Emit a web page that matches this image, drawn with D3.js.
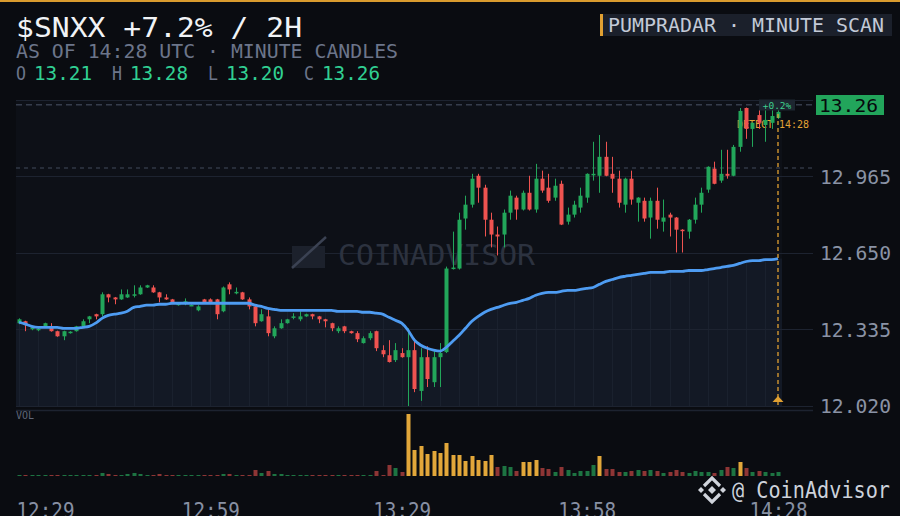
<!DOCTYPE html>
<html>
<head>
<meta charset="utf-8">
<script src="https://cdnjs.cloudflare.com/ajax/libs/d3/7.8.5/d3.min.js"></script>
<style>
html, body { margin: 0; padding: 0; background: #0a0c11; overflow: hidden; }
svg { display: block; }
text { font-family: "DejaVu Sans Mono", monospace; }
</style>
</head>
<body>
<svg id="chart" width="900" height="516"></svg>
<script>
// minute candles 12:29 -> 14:28
var opens = [12.361,12.369,12.336,12.336,12.348,12.344,12.328,12.307,12.322,12.328,
	12.348,12.377,12.398,12.398,12.480,12.467,12.459,12.467,12.476,12.480,
	12.508,12.508,12.488,12.467,12.459,12.435,12.447,12.435,12.414,12.459,
	12.459,12.459,12.410,12.521,12.486,12.488,12.459,12.430,12.369,12.389,
	12.307,12.340,12.361,12.385,12.377,12.389,12.398,12.389,12.377,12.361,
	12.328,12.348,12.328,12.320,12.279,12.299,12.328,12.250,12.229,12.209,
	12.238,12.221,12.250,12.082,12.221,12.118,12.221,12.242,12.586,12.586,
	12.792,12.849,12.968,12.919,12.787,12.726,12.726,12.816,12.878,12.829,
	12.898,12.829,12.956,12.919,12.878,12.935,12.779,12.808,12.837,12.878,
	12.972,12.968,13.046,12.976,12.956,12.849,12.956,12.857,12.865,12.796,
	12.865,12.779,12.808,12.796,12.746,12.738,12.787,12.849,12.911,12.997,
	12.948,12.976,12.968,13.087,13.247,13.161,13.218,13.177,13.186,13.206];
var highs = [12.381,12.371,12.348,12.344,12.363,12.361,12.330,12.330,12.328,12.350,
	12.377,12.391,12.400,12.488,12.482,12.469,12.500,12.500,12.517,12.517,
	12.519,12.517,12.490,12.480,12.461,12.447,12.463,12.439,12.435,12.461,
	12.463,12.461,12.512,12.529,12.508,12.490,12.467,12.432,12.418,12.418,
	12.348,12.377,12.379,12.402,12.410,12.400,12.400,12.391,12.379,12.363,
	12.348,12.350,12.330,12.328,12.307,12.328,12.330,12.270,12.291,12.279,
	12.258,12.340,12.299,12.258,12.266,12.246,12.279,12.594,12.738,12.816,
	12.886,12.976,12.976,12.931,12.816,12.759,12.829,12.907,12.886,12.907,
	12.968,13.017,12.989,12.976,12.956,12.948,12.837,12.865,12.919,12.978,
	13.108,13.136,13.108,13.046,12.989,12.960,12.989,12.880,12.878,12.878,
	12.919,12.870,12.816,12.798,12.748,12.790,12.878,12.919,13.007,13.026,
	13.075,13.075,13.095,13.247,13.249,13.188,13.247,13.247,13.247,13.247];
var lows = [12.357,12.328,12.332,12.328,12.346,12.326,12.305,12.291,12.318,12.326,
	12.346,12.361,12.377,12.389,12.447,12.439,12.457,12.465,12.467,12.478,
	12.506,12.486,12.447,12.457,12.445,12.433,12.435,12.433,12.410,12.445,
	12.445,12.377,12.406,12.480,12.480,12.457,12.418,12.348,12.367,12.307,
	12.299,12.338,12.359,12.377,12.369,12.387,12.377,12.361,12.344,12.328,
	12.320,12.320,12.318,12.283,12.277,12.291,12.246,12.221,12.199,12.201,
	12.219,12.020,12.077,12.041,12.098,12.098,12.098,12.238,12.582,12.582,
	12.746,12.837,12.857,12.718,12.673,12.640,12.673,12.787,12.787,12.825,
	12.825,12.816,12.898,12.857,12.865,12.765,12.767,12.796,12.816,12.857,
	12.948,12.898,12.966,12.898,12.837,12.816,12.849,12.779,12.779,12.709,
	12.750,12.738,12.718,12.652,12.652,12.709,12.771,12.816,12.898,12.933,
	12.939,12.956,12.966,13.067,13.120,13.087,13.161,13.108,13.161,13.202];
var closes = [12.377,12.357,12.344,12.338,12.361,12.328,12.307,12.328,12.326,12.348,
	12.369,12.389,12.389,12.480,12.467,12.459,12.480,12.480,12.480,12.508,
	12.517,12.488,12.467,12.459,12.447,12.443,12.451,12.436,12.430,12.447,
	12.447,12.398,12.508,12.500,12.490,12.459,12.430,12.361,12.398,12.320,
	12.340,12.361,12.377,12.389,12.389,12.398,12.389,12.377,12.369,12.340,
	12.340,12.328,12.320,12.295,12.299,12.320,12.258,12.233,12.201,12.250,
	12.221,12.250,12.090,12.221,12.131,12.221,12.238,12.586,12.590,12.787,
	12.849,12.956,12.919,12.787,12.726,12.718,12.816,12.886,12.829,12.898,
	12.829,12.956,12.907,12.865,12.927,12.767,12.808,12.849,12.886,12.976,
	12.976,13.046,12.968,12.956,12.857,12.956,12.870,12.878,12.792,12.865,
	12.787,12.796,12.796,12.746,12.742,12.787,12.849,12.898,13.005,12.935,
	12.976,12.968,13.087,13.235,13.161,13.186,13.186,13.198,13.214,13.231];
var ma = [12.365,12.357,12.348,12.344,12.344,12.344,12.344,12.340,12.340,12.340,
	12.344,12.348,12.361,12.381,12.393,12.398,12.402,12.410,12.426,12.430,
	12.435,12.435,12.439,12.439,12.443,12.443,12.443,12.443,12.443,12.443,
	12.443,12.443,12.443,12.443,12.443,12.443,12.443,12.435,12.430,12.422,
	12.418,12.414,12.414,12.414,12.414,12.414,12.414,12.414,12.414,12.414,
	12.410,12.410,12.410,12.410,12.406,12.406,12.402,12.398,12.385,12.373,
	12.361,12.332,12.291,12.270,12.258,12.250,12.246,12.262,12.287,12.311,
	12.340,12.369,12.389,12.406,12.418,12.426,12.435,12.443,12.447,12.455,
	12.463,12.476,12.484,12.488,12.488,12.492,12.496,12.496,12.500,12.504,
	12.508,12.521,12.533,12.541,12.549,12.554,12.558,12.562,12.566,12.570,
	12.570,12.570,12.574,12.574,12.574,12.578,12.578,12.578,12.582,12.586,
	12.590,12.595,12.599,12.607,12.615,12.619,12.619,12.623,12.623,12.627];
var volume = [1,1,1,1,1,1,1,1,1,1,1,1,1,3,2,1,1,2,3,2,
	1,1,2,1,1,1,1,1,1,1,1,1,2,2,1,1,1,6,3,5,
	2,2,1,1,1,1,1,1,1,1,1,1,1,1,1,1,5,1,11,8,
	4,62,26,30,22,25,23,33,21,21,15,20,16,15,21,9,10,9,5,14,
	14,16,8,7,4,9,6,3,5,5,11,20,7,7,4,4,5,6,5,6,
	5,3,4,6,4,3,5,4,4,3,6,9,8,14,8,4,5,4,3,4];

var tickIdx = [0, 30, 60, 89, 119];
var tickLabels = ['12:29', '12:59', '13:29', '13:58', '14:28'];
var priceTicks = [12.020, 12.335, 12.650, 12.965, 13.280];
var lastPrice = 13.26;
var levelPrice = 13.00;
var ohlcLabels = ['O', 'H', 'L', 'C'];
var ohlcValues = ['13.21', '13.28', '13.20', '13.26'];

var plotLeft = 16, plotRight = 782, plotTop = 100, plotBottom = 406;
var upColor = '#22a65a', downColor = '#ef5350';

var svg = d3.select('#chart');

var x = d3.scaleLinear().domain([0, opens.length - 1]).range([19, 778]);
var y = d3.scaleLinear().domain([12.02, 13.28]).range([plotBottom, plotTop]);
var v = d3.scaleLinear().domain([0, 62]).range([476, 414]);

var candles = opens.map(function (o, i) {
	return {i: i, o: o, h: highs[i], l: lows[i], c: closes[i], vol: volume[i], ma: ma[i]};
});

svg.append('rect').attr('width', 900).attr('height', 516).attr('fill', '#0a0c11');
svg.append('rect').attr('width', 900).attr('height', 2).attr('fill', '#d99b2e');

// plot panel
svg.append('rect')
	.attr('x', plotLeft).attr('y', plotTop)
	.attr('width', plotRight - plotLeft).attr('height', plotBottom - plotTop)
	.attr('fill', '#0d1017');

var areaPts = [{px: plotLeft, val: ma[0]}].concat(candles.map(function (d) {
	return {px: x(d.i), val: d.ma};
})).concat([{px: plotRight, val: ma[ma.length - 1]}]);

var area = d3.area()
	.x(function (d) { return d.px; })
	.y0(plotBottom)
	.y1(function (d) { return y(d.val); })
	.curve(d3.curveMonotoneX);

var defs = svg.append('defs');
defs.append('clipPath').attr('id', 'under-ma')
	.append('path').attr('d', area(areaPts));

svg.append('path').attr('d', area(areaPts)).attr('fill', '#131925');

svg.append('g')
	.attr('clip-path', 'url(#under-ma)')
	.selectAll('line')
	.data(candles.filter(function (d) { return d.i % 3 == 0; }))
	.enter().append('line')
	.attr('x1', function (d) { return Math.round(x(d.i)) + 0.5; })
	.attr('x2', function (d) { return Math.round(x(d.i)) + 0.5; })
	.attr('y1', plotTop).attr('y2', plotBottom)
	.attr('stroke', '#1a212e').attr('stroke-width', 1);

// grid
svg.append('g').selectAll('line')
	.data(priceTicks)
	.enter().append('line')
	.attr('x1', plotLeft).attr('x2', 813)
	.attr('y1', function (d) { return Math.round(y(d)) + 0.5; })
	.attr('y2', function (d) { return Math.round(y(d)) + 0.5; })
	.attr('stroke', '#1d2330').attr('stroke-width', 1.2);

svg.append('line')
	.attr('x1', plotLeft).attr('x2', 813).attr('y1', 410.5).attr('y2', 410.5)
	.attr('stroke', '#1d2330').attr('stroke-width', 1.5);

svg.append('line')
	.attr('x1', plotLeft).attr('x2', 812)
	.attr('y1', y(levelPrice)).attr('y2', y(levelPrice))
	.attr('stroke', '#434b5c').attr('stroke-dasharray', '4,4');

svg.append('line')
	.attr('x1', plotLeft).attr('x2', 812)
	.attr('y1', y(lastPrice)).attr('y2', y(lastPrice))
	.attr('stroke', '#4c5468').attr('stroke-dasharray', '6,4');

// watermark
var wm = svg.append('g');
wm.append('rect').attr('x', 292).attr('y', 246).attr('width', 33).attr('height', 22).attr('fill', '#1c212c');
wm.append('line').attr('x1', 292).attr('y1', 268).attr('x2', 326).attr('y2', 237)
	.attr('stroke', '#3b4253').attr('stroke-width', 2.5);
wm.append('text').attr('x', 338).attr('y', 265)
	.attr('font-size', 29).attr('fill', '#2c323f')
	.attr('textLength', 197).attr('lengthAdjust', 'spacingAndGlyphs')
	.text('COINADVISOR');

svg.append('text')
	.attr('x', 737).attr('y', 128)
	.attr('font-size', 10).attr('fill', '#e3a335')
	.attr('textLength', 72).attr('lengthAdjust', 'spacingAndGlyphs')
	.text('DETECT 14:28');

// candles
var cg = svg.append('g');
cg.selectAll('line')
	.data(candles)
	.enter().append('line')
	.attr('x1', function (d) { return Math.round(x(d.i)) + 0.5; })
	.attr('x2', function (d) { return Math.round(x(d.i)) + 0.5; })
	.attr('y1', function (d) { return y(d.h); })
	.attr('y2', function (d) { return y(d.l); })
	.attr('stroke', function (d) { return d.c >= d.o ? upColor : downColor; })
	.attr('stroke-width', 1);

cg.selectAll('rect')
	.data(candles)
	.enter().append('rect')
	.attr('x', function (d) { return Math.round(x(d.i)) - 1.5; })
	.attr('width', 4)
	.attr('y', function (d) { return y(Math.max(d.o, d.c)); })
	.attr('height', function (d) { return Math.max(1.5, Math.abs(y(d.o) - y(d.c))); })
	.attr('fill', function (d) { return d.c >= d.o ? upColor : downColor; });

// moving average
svg.append('path')
	.datum(candles)
	.attr('d', d3.line()
		.x(function (d) { return x(d.i); })
		.y(function (d) { return y(d.ma); })
		.curve(d3.curveMonotoneX))
	.attr('fill', 'none')
	.attr('stroke', '#4e9cf2')
	.attr('stroke-width', 2.8);

// detect marker
svg.append('line')
	.attr('x1', x(119)).attr('x2', x(119)).attr('y1', 114).attr('y2', 408)
	.attr('stroke', '#e0a032').attr('stroke-width', 1.3).attr('stroke-dasharray', '4,3');
svg.append('path')
	.attr('d', 'M' + x(119) + ',396 L' + (x(119) + 5.5) + ',402 L' + (x(119) - 5.5) + ',402 Z')
	.attr('fill', '#e0a032');

svg.append('rect').attr('x', 759).attr('y', 99.5).attr('width', 36).attr('height', 11).attr('fill', '#1d2630');
svg.append('text')
	.attr('x', 777).attr('y', 108.5).attr('text-anchor', 'middle')
	.attr('font-size', 9.5).attr('fill', '#3fcf8e')
	.text('+0.2%');

// volume
svg.append('text').attr('x', 16).attr('y', 419)
	.attr('font-size', 10).attr('fill', '#5f6779').text('VOL');

svg.append('g').selectAll('rect')
	.data(candles)
	.enter().append('rect')
	.attr('x', function (d) { return Math.round(x(d.i)) - 1.5; })
	.attr('width', 4)
	.attr('y', function (d) { return v(d.vol); })
	.attr('height', function (d) { return v(0) - v(d.vol); })
	.attr('fill', function (d) {
		if (d.vol >= 13) return '#e2a73a';
		return d.c >= d.o ? '#1d7442' : '#8e3535';
	});

// axes
var yAxis = svg.append('g')
	.attr('transform', 'translate(813,0)')
	.call(d3.axisRight(y)
		.tickValues(priceTicks.slice(0, 4))
		.tickFormat(d3.format('.3f'))
		.tickSize(0)
		.tickPadding(7));
yAxis.select('.domain').remove();
yAxis.selectAll('text')
	.attr('font-family', '"DejaVu Sans Mono", monospace')
	.attr('font-size', 19)
	.attr('fill', '#8a93a5')
	.attr('dy', '0.36em')
	.attr('textLength', 71)
	.attr('lengthAdjust', 'spacingAndGlyphs');

var xAxis = svg.append('g')
	.attr('transform', 'translate(0,500)')
	.call(d3.axisBottom(x)
		.tickValues(tickIdx)
		.tickFormat(function (d, i) { return tickLabels[i]; })
		.tickSize(0)
		.tickPadding(0));
xAxis.select('.domain').remove();
xAxis.selectAll('text')
	.attr('font-family', '"DejaVu Sans Mono", monospace')
	.attr('font-size', 21)
	.attr('fill', '#8790a3')
	.attr('y', 18).attr('dy', 0)
	.attr('textLength', 58)
	.attr('lengthAdjust', 'spacingAndGlyphs');
xAxis.select('.tick text')
	.attr('text-anchor', 'start')
	.attr('x', plotLeft - x(0));

// last price tag
svg.append('rect').attr('x', 816).attr('y', 95).attr('width', 68).attr('height', 20).attr('fill', '#22a55b');
svg.append('text')
	.attr('x', 819).attr('y', 112)
	.attr('font-size', 18).attr('fill', '#07090d')
	.attr('textLength', 59).attr('lengthAdjust', 'spacingAndGlyphs')
	.text('13.26');

// header
svg.append('text')
	.attr('x', 16).attr('y', 37)
	.attr('font-size', 26).attr('fill', '#f1f3f6')
	.attr('textLength', 286).attr('lengthAdjust', 'spacingAndGlyphs')
	.text('$SNXX +7.2% / 2H');

svg.append('text')
	.attr('x', 16).attr('y', 58)
	.attr('font-size', 19).attr('fill', '#6c758a')
	.attr('textLength', 382).attr('lengthAdjust', 'spacingAndGlyphs')
	.text('AS OF 14:28 UTC \u00b7 MINUTE CANDLES');

var ohlc = svg.append('g').selectAll('g')
	.data(ohlcLabels)
	.enter().append('g')
	.attr('transform', function (d, i) { return 'translate(' + (16 + i * 96) + ',80)'; });
ohlc.append('text')
	.attr('font-size', 19).attr('fill', '#6c758a')
	.attr('textLength', 10).attr('lengthAdjust', 'spacingAndGlyphs')
	.text(function (d) { return d; });
ohlc.append('text')
	.attr('x', 18)
	.attr('font-size', 19).attr('fill', '#31d093')
	.attr('textLength', 58).attr('lengthAdjust', 'spacingAndGlyphs')
	.text(function (d, i) { return ohlcValues[i]; });

svg.append('rect').attr('x', 600).attr('y', 14).attr('width', 292).attr('height', 22).attr('fill', '#1b202b');
svg.append('rect').attr('x', 600).attr('y', 14).attr('width', 3).attr('height', 22).attr('fill', '#e0a032');
svg.append('text')
	.attr('x', 608).attr('y', 32)
	.attr('font-size', 20).attr('fill', '#c3cad7')
	.attr('textLength', 276).attr('lengthAdjust', 'spacingAndGlyphs')
	.text('PUMPRADAR \u00b7 MINUTE SCAN');

// brand mark
var brand = svg.append('g').attr('transform', 'translate(712,490)')
	.attr('fill', 'none').attr('stroke', '#d0d4dc').attr('stroke-width', 3.2);
brand.append('path').attr('d', 'M-8,-4 L0,-12 L8,-4');
brand.append('path').attr('d', 'M-8,4 L0,12 L8,4');
brand.append('path').attr('d', 'M0,-4 L4,0 L0,4 L-4,0 Z').attr('fill', '#d0d4dc').attr('stroke', 'none');
brand.append('path').attr('d', 'M-11,-3 L-8,0 L-11,3 L-14,0 Z').attr('fill', '#d0d4dc').attr('stroke', 'none');
brand.append('path').attr('d', 'M11,-3 L14,0 L11,3 L8,0 Z').attr('fill', '#d0d4dc').attr('stroke', 'none');
svg.append('text')
	.attr('x', 732).attr('y', 498)
	.attr('font-family', '"DejaVu Sans", sans-serif')
	.attr('font-size', 23).attr('fill', '#cdd2db')
	.attr('textLength', 158).attr('lengthAdjust', 'spacingAndGlyphs')
	.text('@ CoinAdvisor');
</script>
</body>
</html>
